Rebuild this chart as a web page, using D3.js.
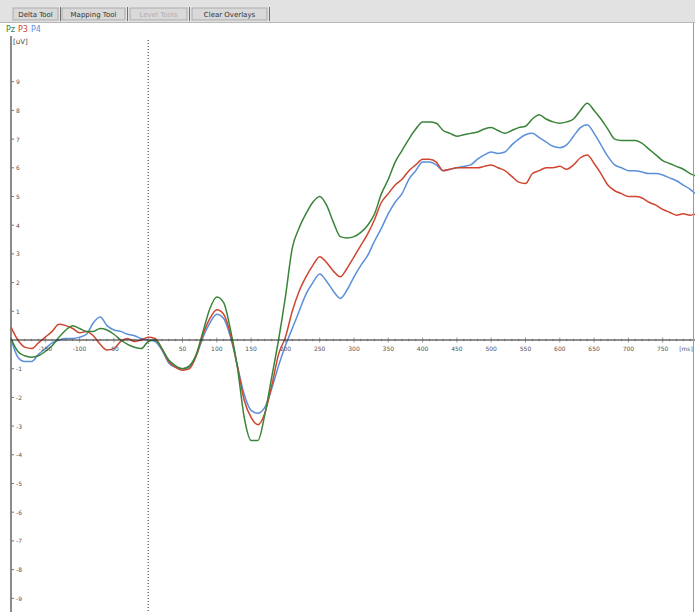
<!DOCTYPE html>
<html>
<head>
<meta charset="utf-8">
<script src="https://cdn.jsdelivr.net/npm/d3@7"></script>
<style>
  html, body { margin: 0; padding: 0; background: #fff; }
  svg { display: block; font-family: "DejaVu Sans", sans-serif; }
</style>
</head>
<body>
<svg id="chart" width="695" height="612"></svg>
<script>
// sample times in ms, one value every 10 ms
const times = d3.range(-200, 801, 10);

// Pz (green)
const pz = [0.05, -0.4, -0.55, -0.6, -0.55, -0.4, -0.2, 0.1, 0.35, 0.5,
  0.4, 0.3, 0.3, 0.4, 0.35, 0.2, 0.0, -0.15, -0.25, -0.3,
  -0.05, 0.0, -0.3, -0.7, -0.9, -1.0, -0.9, -0.5, 0.3, 1.1,
  1.5, 1.3, 0.35, -0.95, -2.7, -3.5, -3.5, -2.6, -1.3, 0.0,
  1.5, 3.2, 3.9, 4.4, 4.8, 5.0, 4.7, 4.1, 3.6, 3.55,
  3.6, 3.75, 4.0, 4.4, 5.1, 5.6, 6.2, 6.6, 7.0, 7.35,
  7.6, 7.6, 7.55, 7.3, 7.2, 7.1, 7.15, 7.2, 7.25, 7.35,
  7.4, 7.3, 7.2, 7.3, 7.4, 7.45, 7.7, 7.85, 7.7, 7.6,
  7.55, 7.6, 7.7, 8.0, 8.25, 8.0, 7.7, 7.35, 7.0, 6.95,
  6.95, 6.95, 6.85, 6.65, 6.45, 6.25, 6.15, 6.05, 5.95, 5.8, 5.7];

// P3 (red)
const p3 = [0.45, 0.0, -0.25, -0.3, -0.1, 0.1, 0.3, 0.55, 0.5, 0.4,
  0.25, 0.3, 0.15, -0.15, -0.35, -0.3, -0.05, 0.05, -0.05, 0.0,
  0.1, 0.05, -0.3, -0.75, -0.95, -1.05, -1.0, -0.55, 0.2, 0.75,
  1.05, 0.9, 0.2, -0.9, -2.1, -2.7, -2.95, -2.55, -1.6, -0.5,
  0.1, 1.0, 1.7, 2.2, 2.6, 2.9, 2.7, 2.4, 2.2, 2.5,
  2.9, 3.3, 3.7, 4.2, 4.8, 5.1, 5.4, 5.6, 5.9, 6.1,
  6.3, 6.3, 6.2, 5.9, 5.95, 6.0, 6.0, 6.0, 6.0, 6.05,
  6.1, 6.0, 5.9, 5.7, 5.5, 5.45, 5.8, 5.9, 6.0, 6.0,
  6.05, 5.95, 6.1, 6.35, 6.45, 6.15, 5.8, 5.4, 5.2, 5.1,
  5.0, 5.0, 4.95, 4.8, 4.7, 4.55, 4.45, 4.35, 4.4, 4.35, 4.4];

// P4 (blue)
const p4 = [0.05, -0.6, -0.75, -0.75, -0.5, -0.3, -0.1, 0.0, 0.05, 0.05,
  0.1, 0.2, 0.6, 0.8, 0.5, 0.35, 0.3, 0.2, 0.15, 0.05,
  0.0, -0.05, -0.35, -0.8, -0.95, -1.0, -0.95, -0.55, 0.1, 0.6,
  0.9, 0.75, 0.1, -0.9, -1.9, -2.45, -2.55, -2.35, -1.7, -0.9,
  -0.2, 0.4, 1.0, 1.6, 2.0, 2.3, 2.05, 1.7, 1.45, 1.75,
  2.2, 2.6, 2.95, 3.45, 3.9, 4.4, 4.8, 5.1, 5.6, 5.9,
  6.2, 6.2, 6.1, 5.9, 5.95, 6.0, 6.05, 6.1, 6.3, 6.45,
  6.55, 6.5, 6.55, 6.8, 7.0, 7.15, 7.2, 7.05, 6.9, 6.75,
  6.7, 6.8, 7.1, 7.4, 7.5, 7.2, 6.8, 6.4, 6.1, 6.0,
  5.9, 5.9, 5.85, 5.8, 5.8, 5.75, 5.65, 5.55, 5.4, 5.25, 5.05];

const channels = ['Pz', 'P3', 'P4'];
const colors = ['#3a843a', '#cf4530', '#5b8fdb'];
const xTicks = [-150, -100, -50, 50, 100, 150, 200, 250, 300, 350, 400, 450, 500, 550, 600, 650, 700, 750];
const yTicks = [-9, -8, -7, -6, -5, -4, -3, -2, -1, 1, 2, 3, 4, 5, 6, 7, 8, 9];
const buttons = ['Delta Tool', 'Mapping Tool', 'Level Tools', 'Clear Overlays'];

const W = 695, H = 612;
const svg = d3.select('#chart');

const x = d3.scaleLinear().domain([-200, 800]).range([11, 697]);
const y = d3.scaleLinear().domain([-10, 10]).range([627, 53]);

// toolbar
const bar = svg.append('g');
bar.append('rect').attr('width', W).attr('height', 22).attr('fill', '#e2e2e2');
bar.append('line').attr('x1', 0).attr('x2', W).attr('y1', 22.5).attr('y2', 22.5).attr('stroke', '#b8b8b8');
const btnX = [13, 62, 130, 192];
const btnW = [45, 63, 57, 75];
buttons.forEach((b, i) => {
  const g = bar.append('g').attr('transform', `translate(${btnX[i]},8)`);
  g.append('rect').attr('width', btnW[i]).attr('height', 12)
    .attr('fill', '#d9d9d9').attr('stroke', '#a0a0a0').attr('stroke-width', 0.8);
  g.append('line').attr('x1', btnW[i] + 2.5).attr('x2', btnW[i] + 2.5).attr('y1', -1).attr('y2', 13)
    .attr('stroke', '#707070');
  g.append('text').attr('x', btnW[i] / 2).attr('y', 9)
    .attr('text-anchor', 'middle').attr('font-size', 7)
    .attr('fill', i === 2 ? '#b0b0b0' : '#333')
    .text(b);
});

// legend
let lx = 6;
channels.forEach((c, i) => {
  const t = svg.append('text').attr('x', lx).attr('y', 32)
    .attr('font-size', 8).attr('fill', colors[i]).text(c);
  lx += t.node().getComputedTextLength() + 3;
});
svg.append('text').attr('x', 13).attr('y', 44).attr('font-size', 7).attr('fill', '#444').text('[uV]');

// y axis
svg.append('line').attr('x1', 11).attr('x2', 11).attr('y1', 36).attr('y2', H)
  .attr('stroke', '#8a8a8a').attr('stroke-width', 2);
const yg = svg.append('g');
yg.selectAll('line').data(yTicks).join('line')
  .attr('x1', 11).attr('x2', 14)
  .attr('y1', d => y(d)).attr('y2', d => y(d))
  .attr('stroke', '#777');
yg.selectAll('text').data(yTicks).join('text')
  .attr('x', 16).attr('y', d => y(d) + 2.5)
  .attr('font-size', 6).attr('fill', '#555')
  .text(d => d);

// stimulus onset
svg.append('line').attr('x1', x(0)).attr('x2', x(0)).attr('y1', 40).attr('y2', H)
  .attr('stroke', '#333').attr('stroke-dasharray', '1,2');

// waveforms, green drawn last so it sits on top
const line = d3.line().x((d, i) => x(times[i])).y(d => y(d)).curve(d3.curveMonotoneX);
[p4, p3, pz].forEach((s, k) => {
  svg.append('path').datum(s)
    .attr('fill', 'none')
    .attr('stroke', colors[2 - k])
    .attr('stroke-width', 1.5)
    .attr('d', line);
});

// x axis
svg.append('line').attr('x1', 11).attr('x2', W).attr('y1', y(0)).attr('y2', y(0))
  .attr('stroke', '#222').attr('stroke-width', 1.2);
const xg = svg.append('g');
xg.selectAll('line').data(times).join('line')
  .attr('x1', d => x(d)).attr('x2', d => x(d))
  .attr('y1', d => y(0) - (d % 50 === 0 ? 2.5 : 1.2))
  .attr('y2', d => y(0) + (d % 50 === 0 ? 2.5 : 1.2))
  .attr('stroke', '#555').attr('stroke-width', 0.6);
xg.selectAll('text').data(xTicks).join('text')
  .attr('x', d => x(d)).attr('y', y(0) + 11)
  .attr('text-anchor', 'middle').attr('font-size', 6).attr('fill', '#555')
  .text(d => d);
svg.append('text').attr('x', 686).attr('y', y(0) + 11)
  .attr('text-anchor', 'middle').attr('font-size', 6).attr('fill', '#555').text('[ms]');

// right border
svg.append('line').attr('x1', 693.5).attr('x2', 693.5).attr('y1', 23).attr('y2', H)
  .attr('stroke', '#9a9a9a');
</script>
</body>
</html>
